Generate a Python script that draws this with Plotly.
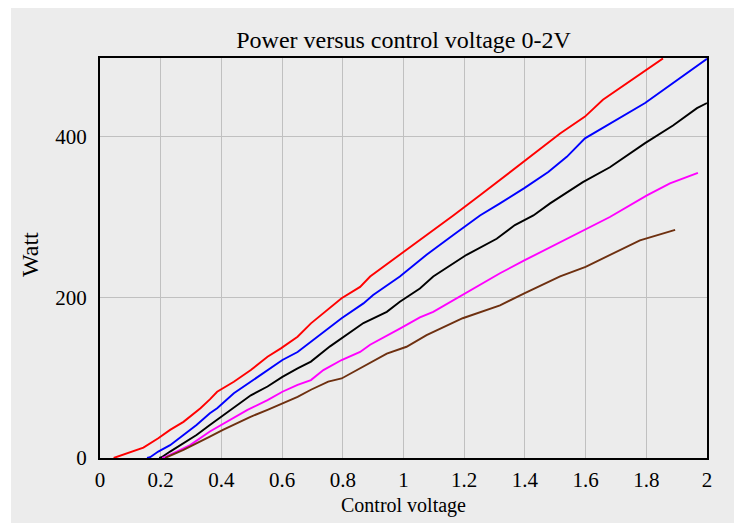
import plotly.graph_objects as go

# Control voltage (V) and power (W) per curve
red_v = [0.045, 0.053, 0.082, 0.110, 0.143, 0.192, 0.231, 0.275, 0.318, 0.331, 0.362, 0.386, 0.441, 0.497, 0.552, 0.596, 0.651, 0.695, 0.796, 0.857, 0.890, 0.955, 0.988, 1.054, 1.076, 1.164, 1.252, 1.318, 1.398, 1.483, 1.516, 1.598, 1.657, 1.855]
red_w = [0, 1, 5, 8, 13, 24.5, 35, 45, 58, 62, 73, 82.5, 95, 109.5, 126, 136.5, 151, 167.6, 199, 213, 226, 244, 253, 271, 277.5, 302, 327, 346, 369, 394, 404, 425, 446, 497.5]

blue_v = [0.155, 0.165, 0.192, 0.231, 0.275, 0.318, 0.362, 0.386, 0.441, 0.497, 0.552, 0.601, 0.651, 0.695, 0.796, 0.868, 0.900, 0.988, 1.076, 1.164, 1.252, 1.318, 1.398, 1.477, 1.538, 1.598, 1.700, 1.796, 2.0]
blue_w = [0, 1, 8, 16, 28.6, 41, 55.6, 62, 80.5, 95, 109.5, 122, 132, 145, 174, 192.5, 203, 226, 253, 277.5, 302, 317, 336, 356, 375, 398, 421, 442, 497]

black_v = [0.195, 0.203, 0.231, 0.275, 0.318, 0.362, 0.441, 0.497, 0.552, 0.601, 0.651, 0.695, 0.758, 0.868, 0.945, 0.988, 1.054, 1.098, 1.208, 1.307, 1.367, 1.428, 1.483, 1.591, 1.680, 1.796, 1.888, 1.967, 2.0]
black_w = [0, 1, 8, 18, 28.6, 41, 62, 78, 89, 101, 111.6, 120, 139, 168, 182, 194.5, 211, 226, 253, 273, 290, 302, 317, 343.5, 362, 392, 414, 435.6, 442]

magenta_v = [0.205, 0.214, 0.253, 0.297, 0.362, 0.486, 0.552, 0.601, 0.651, 0.695, 0.736, 0.796, 0.857, 0.890, 0.988, 1.054, 1.098, 1.195, 1.318, 1.398, 1.516, 1.680, 1.802, 1.878, 1.970]
magenta_w = [0, 1, 8, 16, 33, 60, 72, 82.5, 91, 97, 109.5, 122, 132, 141, 161, 175, 182, 203, 230, 246, 269, 300, 327, 342, 355]

brown_v = [0.215, 0.220, 0.275, 0.330, 0.362, 0.405, 0.494, 0.552, 0.651, 0.695, 0.752, 0.796, 0.890, 0.945, 1.010, 1.076, 1.195, 1.318, 1.398, 1.516, 1.600, 1.779, 1.895]
brown_w = [0, 1, 10, 20, 26.5, 35, 51, 60, 76, 85, 95, 99, 118, 130, 138.5, 153, 174, 190, 205, 226, 238, 271, 284]

x_ticks = [0, 0.2, 0.4, 0.6, 0.8, 1, 1.2, 1.4, 1.6, 1.8, 2]
x_ticklabels = ["0", "0.2", "0.4", "0.6", "0.8", "1", "1.2", "1.4", "1.6", "1.8", "2"]
y_ticks = [0, 200, 400]

series = [
    (red_v, red_w, "#ff0000"),
    (blue_v, blue_w, "#0000ff"),
    (black_v, black_w, "#000000"),
    (magenta_v, magenta_w, "#ff00ff"),
    (brown_v, brown_w, "#6e3010"),
]

FONT = "Liberation Serif"

fig = go.Figure()
for v, w, c in series:
    fig.add_trace(go.Scatter(x=v, y=w, mode="lines", line=dict(color=c, width=1.9),
                             showlegend=False, hoverinfo="skip"))

fig.update_layout(
    width=734, height=523,
    margin=dict(l=100, r=27, t=58, b=65),
    paper_bgcolor="white",
    plot_bgcolor="#ececec",
    font=dict(family=FONT, size=20, color="black"),
    title=dict(text="Power versus control voltage 0-2V", x=(100 + 607 / 2) / 734, xanchor="center",
               y=1 - 40 / 523, yanchor="middle", font=dict(family=FONT, size=24, color="black")),
    shapes=[dict(type="rect", xref="paper", yref="paper", x0=(11 - 100) / 607, x1=1.2,
                 y0=-0.3, y1=1 + 50 / 400, fillcolor="#ececec", line=dict(width=0), layer="below")],
    annotations=[
        dict(text="Control voltage", xref="paper", yref="paper", x=0.5, y=(458 - 505) / 400,
             xanchor="center", yanchor="middle", showarrow=False,
             font=dict(family=FONT, size=20, color="black")),
        dict(text="Watt", xref="paper", yref="paper", x=(30 - 100) / 607, y=(458 - 255) / 400,
             xanchor="center", yanchor="middle", textangle=-90, showarrow=False,
             font=dict(family=FONT, size=24, color="black")),
    ],
)
fig.update_xaxes(range=[0, 2], tickvals=x_ticks, ticktext=x_ticklabels, showgrid=True,
                 gridcolor="#c0c0c0", gridwidth=1, zeroline=False, showline=True, linecolor="black",
                 linewidth=2, mirror=True, ticks="", ticklabelstandoff=2,
                 tickfont=dict(family=FONT, size=21, color="black"))
fig.update_yaxes(range=[0, 498], tickvals=y_ticks, showgrid=True, gridcolor="#c0c0c0", gridwidth=1,
                 zeroline=False, showline=True, linecolor="black", linewidth=2, mirror=True, ticks="",
                 ticklabelstandoff=7, tickfont=dict(family=FONT, size=21, color="black"))

fig.write_html("out.html")
